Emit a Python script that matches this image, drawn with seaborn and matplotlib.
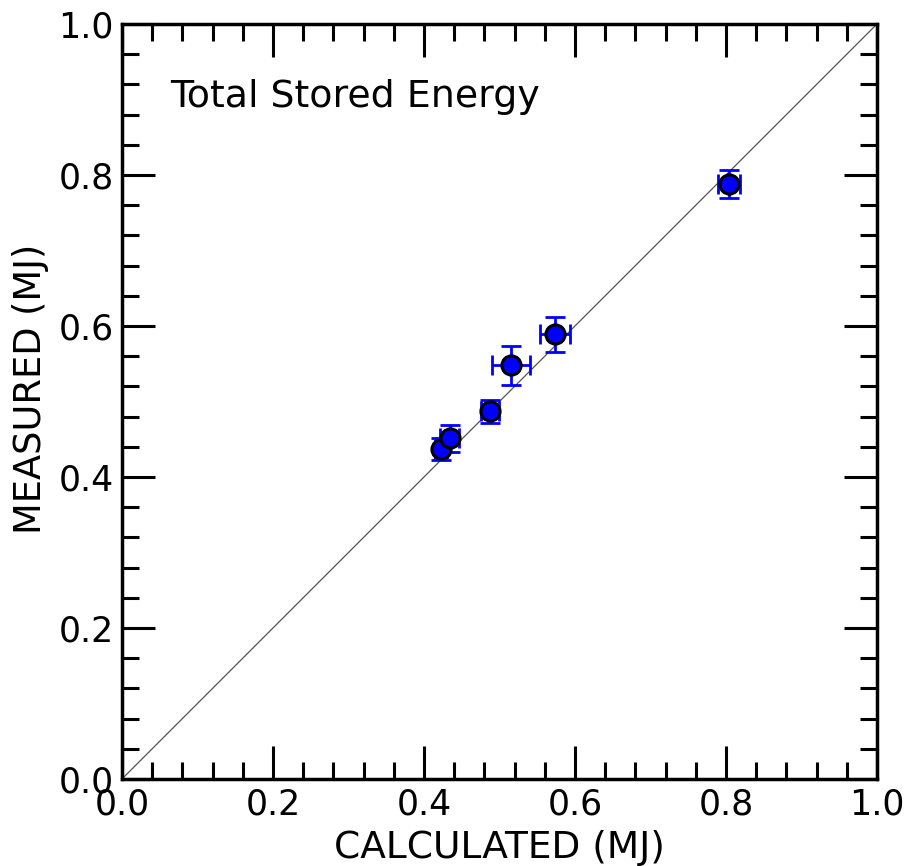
import matplotlib
matplotlib.use("Agg")
import matplotlib.pyplot as plt
import seaborn as sns
import pandas as pd
import numpy as np
from matplotlib.ticker import MultipleLocator

calculated = [0.423, 0.434, 0.487, 0.515, 0.574, 0.804]
measured = [0.437, 0.451, 0.487, 0.548, 0.589, 0.788]
calc_err = [0.008, 0.013, 0.012, 0.025, 0.020, 0.014]
meas_err = [0.014, 0.018, 0.015, 0.026, 0.023, 0.018]

df = pd.DataFrame({"calc": calculated, "meas": measured,
                   "xerr": calc_err, "yerr": meas_err})

sns.set_style("ticks")
plt.rcParams['font.family'] = ['DejaVu Sans']
plt.rcParams['text.color'] = 'black'
plt.rcParams['axes.labelcolor'] = 'black'
plt.rcParams['xtick.color'] = 'black'
plt.rcParams['ytick.color'] = 'black'
plt.rcParams['axes.edgecolor'] = 'black'

fig = plt.figure(figsize=(9.11, 8.66), dpi=100)
ax = fig.add_axes([0.1339, 0.1005, 0.8288, 0.8718])

ax.plot([0, 1], [0, 1], color="#555555", lw=0.9, zorder=1)
ax.errorbar(df["calc"], df["meas"], xerr=df["xerr"], yerr=df["yerr"],
            fmt="none", ecolor="blue", elinewidth=2.0, capsize=7, capthick=2.0, zorder=2)
sns.scatterplot(data=df, x="calc", y="meas", ax=ax, color="blue",
                edgecolor="black", linewidth=2.2, s=190, zorder=3, legend=False)

ax.set_xlim(0, 1)
ax.set_ylim(0, 1)
ax.xaxis.set_major_locator(MultipleLocator(0.2))
ax.yaxis.set_major_locator(MultipleLocator(0.2))
ax.xaxis.set_minor_locator(MultipleLocator(0.04))
ax.yaxis.set_minor_locator(MultipleLocator(0.04))
ax.tick_params(which="both", direction="in", top=True, right=True, width=2.2, colors="black")
ax.tick_params(which="major", length=24, labelsize=25, pad=6)
ax.tick_params(which="minor", length=12)
for s in ax.spines.values():
    s.set_linewidth(2.5)
    s.set_visible(True)
    s.set_color("black")

ax.set_xlabel("CALCULATED (MJ)", fontsize=27, labelpad=6, color="black")
ax.set_ylabel("MEASURED (MJ)", fontsize=26.5, color="black")
ax.yaxis.set_label_coords(-0.097, 0.517)
ax.text(0.064, 0.903, "Total Stored Energy", fontsize=27.3, va="center", ha="left",
        color="black", transform=ax.transData)

fig.savefig("out.png", dpi=100)
